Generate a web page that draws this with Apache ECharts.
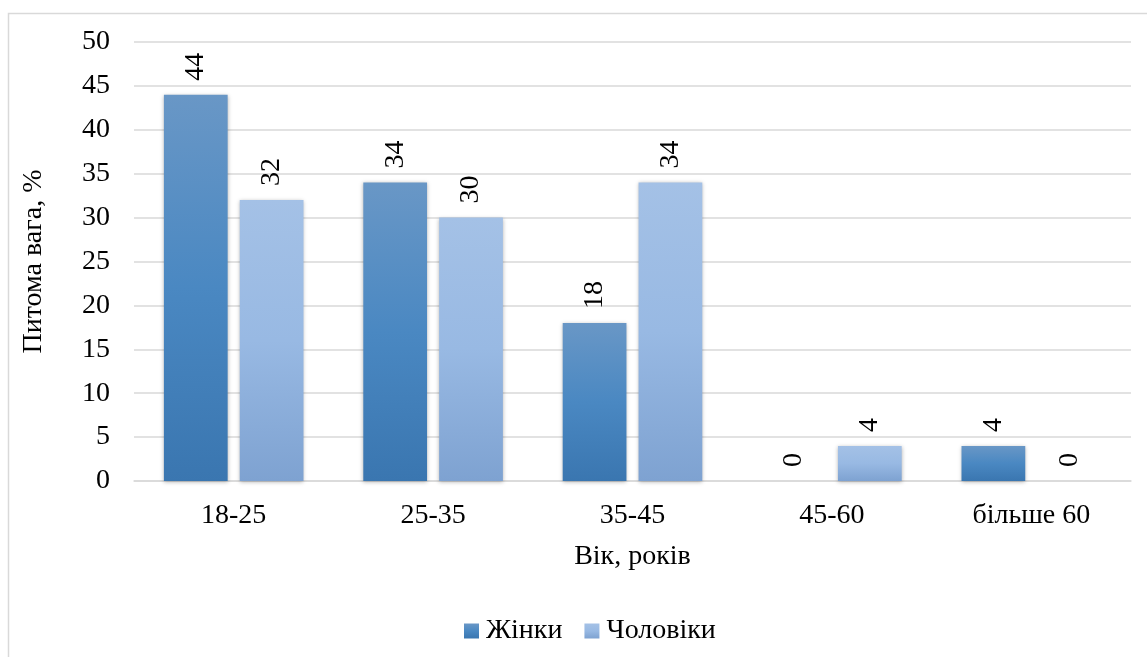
<!DOCTYPE html>
<html>
<head>
<meta charset="utf-8">
<style>
  html, body { margin: 0; padding: 0; background: #ffffff; }
  #chart { width: 1147px; height: 657px; }
</style>
<script src="https://cdn.jsdelivr.net/npm/echarts@6/dist/echarts.min.js"></script>
</head>
<body>
<div id="chart"></div>
<script>
// Age groups and the share (%) of each group among women and men
const ageGroups = ['18-25', '25-35', '35-45', '45-60', 'більше 60'];
const women = [44, 34, 18, 0, 4];
const men = [32, 30, 34, 4, 0];
const seriesNames = ['Жінки', 'Чоловіки'];
const xAxisTitle = 'Вік, років';
const yAxisTitle = 'Питома вага, %';

const FONT = '"Liberation Serif", "Times New Roman", serif';
const FS = 28;

// Vertical gradients for the two series
const womenFill = new echarts.graphic.LinearGradient(0, 0, 0, 1, [
  { offset: 0, color: '#6997c6' },
  { offset: 0.5, color: '#4a88c2' },
  { offset: 1, color: '#3a76b0' }
]);
const menFill = new echarts.graphic.LinearGradient(0, 0, 0, 1, [
  { offset: 0, color: '#a4c1e6' },
  { offset: 0.5, color: '#98b9e3' },
  { offset: 1, color: '#7ea2d1' }
]);

const labelStyle = {
  show: true,
  position: 'top',
  rotate: 90,
  align: 'left',
  verticalAlign: 'middle',
  distance: 14,
  fontFamily: FONT,
  fontSize: FS,
  color: '#000000'
};

const chart = echarts.init(document.getElementById('chart'), null, { renderer: 'canvas' });
chart.setOption({
  animation: false,
  backgroundColor: '#ffffff',
  graphic: [{
    type: 'rect',
    shape: { x: 8.5, y: 13.5, width: 1160, height: 700 },
    style: { fill: 'none', stroke: '#d9d9d9', lineWidth: 1.5 },
    silent: true,
    z: -1
  }],
  grid: { left: 134, right: 16, top: 42, bottom: 176, containLabel: false },
  legend: {
    data: seriesNames,
    bottom: 7,
    left: 459,
    itemWidth: 15,
    itemHeight: 15,
    itemGap: 22,
    icon: 'rect',
    textStyle: { fontFamily: FONT, fontSize: FS, color: '#000000', padding: [0, 0, 0, 2] }
  },
  xAxis: {
    type: 'category',
    data: ageGroups,
    name: xAxisTitle,
    nameLocation: 'middle',
    nameGap: 62,
    nameTextStyle: { fontFamily: FONT, fontSize: FS, color: '#000000' },
    axisLine: { show: true, lineStyle: { color: '#d9d9d9', width: 1.5 } },
    axisTick: { show: false },
    axisLabel: { fontFamily: FONT, fontSize: FS, color: '#000000', margin: 21 }
  },
  yAxis: {
    type: 'value',
    min: 0,
    max: 50,
    interval: 5,
    name: yAxisTitle,
    nameLocation: 'middle',
    nameGap: 86,
    nameRotate: 90,
    nameTextStyle: { fontFamily: FONT, fontSize: FS, color: '#000000' },
    axisLine: { show: false },
    axisTick: { show: false },
    axisLabel: { fontFamily: FONT, fontSize: FS, color: '#000000', margin: 24 },
    splitLine: { lineStyle: { color: '#d9d9d9', width: 1.5 } }
  },
  series: [
    {
      name: seriesNames[0],
      type: 'bar',
      data: women,
      barGap: '19%',
      barCategoryGap: '30%',
      itemStyle: {
        color: womenFill,
        shadowColor: 'rgba(0,0,0,0.3)',
        shadowBlur: 4,
        shadowOffsetY: 1
      },
      label: labelStyle
    },
    {
      name: seriesNames[1],
      type: 'bar',
      data: men,
      itemStyle: {
        color: menFill,
        shadowColor: 'rgba(0,0,0,0.3)',
        shadowBlur: 4,
        shadowOffsetY: 1
      },
      label: labelStyle
    }
  ]
});
</script>
</body>
</html>
